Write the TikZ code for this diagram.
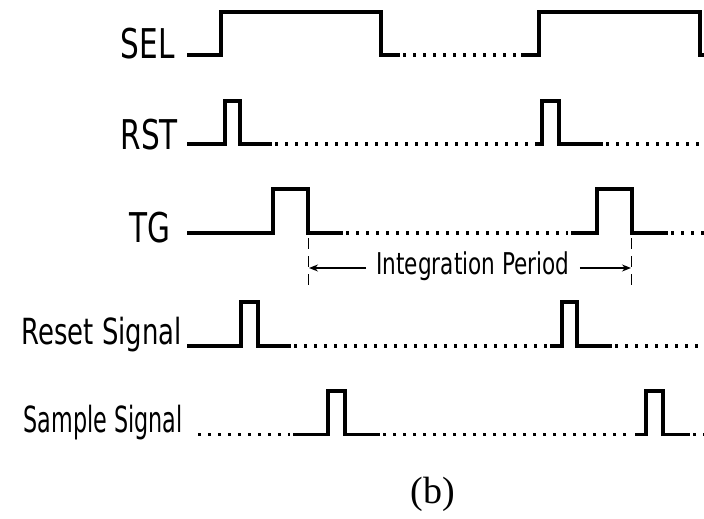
\documentclass[tikz,border=0pt]{standalone}
\usepackage{fontspec}
\newfontfamily\lblfont[FakeStretch=0.72]{DejaVu Sans}
\setmainfont{Liberation Serif}
\usetikzlibrary{arrows.meta}
\begin{document}
\begin{tikzpicture}[x=1pt,y=-1pt,
  wave/.style={line width=3.4pt,line join=miter,line cap=butt},
  dots/.style={line width=3.2pt,dash pattern=on 3.2pt off 6.8pt},
  marker/.style={line width=1.4pt,dash pattern=on 11pt off 7pt},
  span/.style={line width=1.4pt,-{Stealth[length=9pt,width=7pt]}},
  siglbl/.style={inner sep=0pt,font=\lblfont\fontsize{41}{41}\selectfont},
  longlbl/.style={inner sep=0pt,font=\lblfont\fontsize{36}{36}\selectfont}]
\useasboundingbox (0,0) rectangle (704,519);
% labels
\node[siglbl,anchor=base east] (sel) at (175,59) {SEL};
\node[siglbl,anchor=base east] (rst) at (178,149) {RST};
\node[siglbl,anchor=base east] (tg) at (171,242) {TG};
\node[longlbl,anchor=base east] (rs) at (182,344) {Reset Signal};
\node[longlbl,anchor=base east] (ss) at (183,432) {\scalebox{0.86}[1]{Sample Signal}};
% SEL
\draw[wave] (187,55) -- (221,55) -- (221,12) -- (381,12) -- (381,55) -- (400,55);
\draw[dots] (403,55) -- (521,55);
\draw[wave] (521,55) -- (539,55) -- (539,12) -- (700,12) -- (700,55) -- (704,55);
% RST
\draw[wave] (187,144) -- (225,144) -- (225,101) -- (240,101) -- (240,144) -- (272,144);
\draw[dots] (275,144) -- (538,144);
\draw[wave] (537,144) -- (542,144) -- (542,101) -- (559,101) -- (559,144) -- (603,144);
\draw[dots] (606,144) -- (704,144);
% TG
\draw[wave] (187,233) -- (273,233) -- (273,189) -- (308,189) -- (308,233) -- (343,233);
\draw[dots] (346,233) -- (568,233);
\draw[wave] (571,233) -- (597,233) -- (597,189) -- (632,189) -- (632,233) -- (668,233);
\draw[dots] (671,233) -- (704,233);
% Reset Signal
\draw[wave] (187,346) -- (241,346) -- (241,302) -- (258,302) -- (258,346) -- (291,346);
\draw[dots] (294,346) -- (548,346);
\draw[wave] (550,346) -- (562,346) -- (562,302) -- (577,302) -- (577,346) -- (612,346);
\draw[dots] (615,346) -- (704,346);
% Sample Signal
\draw[dots] (198,434.5) -- (290,434.5);
\draw[wave] (293,434.5) -- (328,434.5) -- (328,391) -- (345,391) -- (345,434.5) -- (380,434.5);
\draw[dots] (383,434.5) -- (632,434.5);
\draw[wave] (635,434.5) -- (646,434.5) -- (646,391) -- (663,391) -- (663,434.5) -- (690,434.5);
\draw[dots] (693,434.5) -- (704,434.5);
% Integration period
\coordinate (m1t) at (308.5,238);
\coordinate (m1b) at (308.5,290);
\coordinate (m2t) at (631.5,238);
\coordinate (m2b) at (631.5,290);
\draw[marker] (m1t) -- (m1b);
\draw[marker] (m2t) -- (m2b);
\node[inner sep=0pt,font=\lblfont\fontsize{30}{30}\selectfont] (ip) at (473,266) {Integration Period};
\coordinate (a1) at (309,268);
\coordinate (a2) at (631,268);
\draw[span] (ip.west |- a1) ++(-10,0) -- (a1);
\draw[span] (ip.east |- a2) ++(10,0) -- (a2);
\node[inner sep=0pt,font=\fontsize{38}{38}\selectfont] (cap) at (433,494) {(b)};
\end{tikzpicture}
\end{document}
